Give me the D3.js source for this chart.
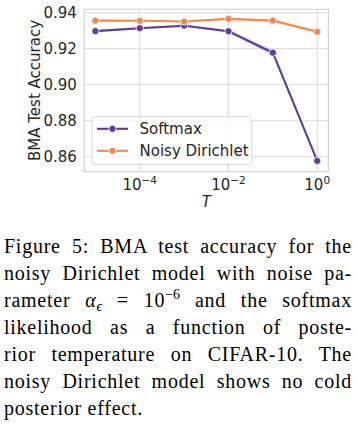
<!DOCTYPE html>
<html>
<head>
<meta charset="utf-8">
<script src="https://cdn.jsdelivr.net/npm/d3@7"></script>
<style>
  html, body { margin: 0; padding: 0; background: #fff; }
  #wrap { position: relative; width: 358px; height: 426px; overflow: hidden; }
  svg { position: absolute; left: 0; top: 0; }
  #caption { position: absolute; left: 4px; top: 233px; width: 348px;
    font-family: "Liberation Serif", "Times New Roman", serif; font-size: 20px; line-height: 27px; color: #000;
    letter-spacing: 0.75px; }
  #caption .ln { text-align: justify; text-align-last: justify; white-space: nowrap; }
  #caption .last { text-align: left; text-align-last: left; }
  .sub, .sup { position: relative; font-size: 14px; line-height: 0; letter-spacing: 0; }
  .sub { top: 4px; }
  .sup { top: -8px; }
</style>
</head>
<body>
<div id="wrap">
<svg id="chart" width="358" height="426"></svg>
<div id="caption"></div>
</div>
<script>
// ---- data ----
const temps = [1e-5, 1e-4, 1e-3, 1e-2, 1e-1, 1];
const softmaxMean = [0.9298, 0.9314, 0.9328, 0.9297, 0.9178, 0.8577];
const softmaxLow  = [0.9291, 0.9308, 0.9322, 0.9288, 0.9162, 0.8570];
const softmaxHigh = [0.9305, 0.9320, 0.9334, 0.9306, 0.9194, 0.8584];
const dirichletMean = [0.9356, 0.9355, 0.9351, 0.9366, 0.9356, 0.9294];
const dirichletLow  = [0.9349, 0.9348, 0.9345, 0.9360, 0.9349, 0.9284];
const dirichletHigh = [0.9363, 0.9362, 0.9357, 0.9372, 0.9363, 0.9304];
const seriesNames = ["Softmax", "Noisy Dirichlet"];
const seriesColors = ["#5c3d99", "#f5894c"];
const yTicks = [0.86, 0.88, 0.90, 0.92, 0.94];
const xTickExps = [-4, -2, 0];
const captionLines = [
  "Figure 5: BMA test accuracy for the",
  "noisy Dirichlet model with noise pa-",
  "rameter <i>α</i><span class='sub'><i>ϵ</i></span> = 10<span class='sup'>−6</span> and the softmax",
  "likelihood as a function of poste-",
  "rior temperature on CIFAR-10. The",
  "noisy Dirichlet model shows no cold",
  "posterior effect."
];

// ---- layout ----
const L = 84.3, R = 328.3, T = 9.3, B = 171.7;
const svg = d3.select("#chart");
const x = d3.scaleLog().domain([Math.pow(10, -5.25), Math.pow(10, 0.25)]).range([L, R]);
const y = d3.scaleLinear().domain([0.8517, 0.9419]).range([B, T]);
const textColor = "#262626";
const font = "'DejaVu Sans', sans-serif";

// grid
const g = svg.append("g");
g.selectAll("line.gy").data(yTicks).enter().append("line")
  .attr("x1", L).attr("x2", R).attr("y1", d => y(d)).attr("y2", d => y(d))
  .attr("stroke", "#dcdcdc").attr("stroke-width", 1);
g.selectAll("line.gx").data(xTickExps).enter().append("line")
  .attr("y1", T).attr("y2", B).attr("x1", d => x(Math.pow(10, d))).attr("x2", d => x(Math.pow(10, d)))
  .attr("stroke", "#dcdcdc").attr("stroke-width", 1);
// frame
g.append("rect").attr("x", L).attr("y", T).attr("width", R - L).attr("height", B - T)
  .attr("fill", "none").attr("stroke", "#d0d0d0").attr("stroke-width", 1.1);

// y tick labels
g.selectAll("text.yt").data(yTicks).enter().append("text")
  .attr("x", L - 7.5).attr("y", d => y(d)).attr("dy", "0.36em")
  .attr("text-anchor", "end").attr("font-family", font).attr("font-size", 15).attr("fill", textColor)
  .text(d => d3.format(".2f")(d));

// x tick labels
xTickExps.forEach(e => {
  const t = g.append("text").attr("x", x(Math.pow(10, e))).attr("y", 189.5)
    .attr("text-anchor", "middle").attr("font-family", font).attr("font-size", 15).attr("fill", textColor);
  t.append("tspan").text("10");
  t.append("tspan").attr("dy", -6).attr("font-size", 10.5).text(e === 0 ? "0" : "−" + Math.abs(e));
});

// axis labels
g.append("text").attr("x", (L + R) / 2).attr("y", 206.5).attr("text-anchor", "middle")
  .attr("font-family", font).attr("font-size", 15).attr("font-style", "italic").attr("fill", textColor).text("T");
g.append("text").attr("transform", `translate(39.5,${(T + B) / 2}) rotate(-90)`)
  .attr("text-anchor", "middle").attr("font-family", font).attr("font-size", 15).attr("fill", textColor)
  .text("BMA Test Accuracy");

// series
const series = [
  { name: seriesNames[0], color: seriesColors[0], mean: softmaxMean, lo: softmaxLow, hi: softmaxHigh },
  { name: seriesNames[1], color: seriesColors[1], mean: dirichletMean, lo: dirichletLow, hi: dirichletHigh }
];
const area = d3.area().x(d => x(d.t)).y0(d => y(d.lo)).y1(d => y(d.hi));
const line = d3.line().x(d => x(d.t)).y(d => y(d.m));
series.forEach(s => {
  const pts = temps.map((t, i) => ({ t, m: s.mean[i], lo: s.lo[i], hi: s.hi[i] }));
  g.append("path").datum(pts).attr("d", area).attr("fill", s.color).attr("fill-opacity", 0.2).attr("stroke", "none");
});
series.forEach(s => {
  const pts = temps.map((t, i) => ({ t, m: s.mean[i] }));
  g.append("path").datum(pts).attr("d", line).attr("fill", "none").attr("stroke", s.color)
    .attr("stroke-width", 2.1).attr("stroke-linejoin", "round");
  g.selectAll(null).data(pts).enter().append("circle")
    .attr("cx", d => x(d.t)).attr("cy", d => y(d.m)).attr("r", 3.6)
    .attr("fill", s.color).attr("stroke", "#fff").attr("stroke-width", 0.8);
});

// legend
const lg = g.append("g");
lg.append("rect").attr("x", 92).attr("y", 116.7).attr("width", 159.7).attr("height", 47.6)
  .attr("rx", 3).attr("fill", "#fff").attr("fill-opacity", 0.8).attr("stroke", "#d8d8d8").attr("stroke-width", 1);
series.forEach((s, i) => {
  const yy = 128.8 + i * 22;
  lg.append("line").attr("x1", 97).attr("x2", 128).attr("y1", yy).attr("y2", yy)
    .attr("stroke", s.color).attr("stroke-width", 2.1);
  lg.append("circle").attr("cx", 112.5).attr("cy", yy).attr("r", 3.6)
    .attr("fill", s.color).attr("stroke", "#fff").attr("stroke-width", 0.8);
  lg.append("text").attr("x", 139.5).attr("y", yy).attr("dy", "0.36em")
    .attr("font-family", font).attr("font-size", 15).attr("fill", textColor).text(s.name);
});

// caption
d3.select("#caption").selectAll("div").data(captionLines).enter().append("div")
  .attr("class", (d, i) => i === captionLines.length - 1 ? "ln last" : "ln")
  .html(d => d);
</script>
</body>
</html>
